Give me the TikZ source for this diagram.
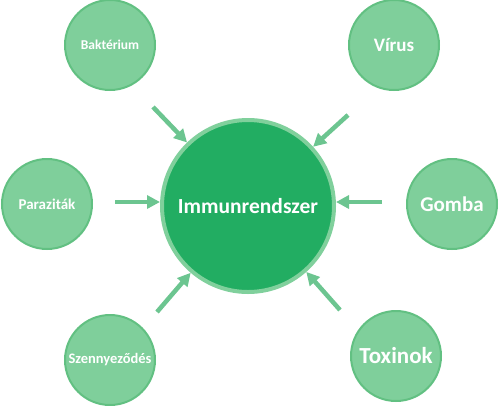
\documentclass[tikz,border=0pt]{standalone}
\usepackage{fontspec}
\setmainfont{Carlito}
\usetikzlibrary{arrows.meta}
\definecolor{outfill}{HTML}{7FCF9B}
\definecolor{outline}{HTML}{62C082}
\definecolor{cenfill}{HTML}{22AD62}
\definecolor{cenline}{HTML}{80D09C}
\definecolor{arrowc}{HTML}{6CC590}
\tikzset{
  outer/.style={circle, fill=outfill, draw=outline, line width=2pt, minimum size=90pt, inner sep=0pt, text=white, font=\bfseries},
  center/.style={circle, fill=cenfill, draw=cenline, line width=4pt, minimum size=172pt, inner sep=0pt, text=white, font=\bfseries\fontsize{21.5}{24}\selectfont},
  arr/.style={draw=arrowc, line width=4.5pt, -{Triangle[length=13pt, width=13pt]}}
}
\begin{document}
\begin{tikzpicture}[x=1pt,y=1pt]
\useasboundingbox (0,0) rectangle (500,-405);
\node[center] (imm) at (248,-206) {Immunrendszer};
\node[outer, font=\bfseries\fontsize{13.5}{16}\selectfont] (bak) at (110,-45) {Baktérium};
\node[outer, font=\bfseries\fontsize{19}{22}\selectfont] (vir) at (394,-45) {Vírus};
\node[outer, font=\bfseries\fontsize{15}{17}\selectfont] (par) at (47,-204) {Paraziták};
\node[outer, font=\bfseries\fontsize{21}{24}\selectfont] (gom) at (452,-204) {Gomba};
\node[outer, font=\bfseries\fontsize{14.5}{17}\selectfont] (sze) at (110,-360) {Szennyeződés};
\node[outer, font=\bfseries\fontsize{23}{26}\selectfont] (tox) at (396,-356) {Toxinok};
\coordinate (a1) at (153,-107);
\coordinate (a2) at (348,-115);
\coordinate (a3) at (115,-202);
\coordinate (a4) at (382,-202);
\coordinate (a5) at (157,-312);
\coordinate (a6) at (340,-310);
\draw[arr] (a1) -- (imm);
\draw[arr] (a2) -- (imm);
\draw[arr] (a3) -- (imm.west |- a3);
\draw[arr] (a4) -- (imm.east |- a4);
\draw[arr] (a5) -- (imm);
\draw[arr] (a6) -- (imm);
\end{tikzpicture}
\end{document}
